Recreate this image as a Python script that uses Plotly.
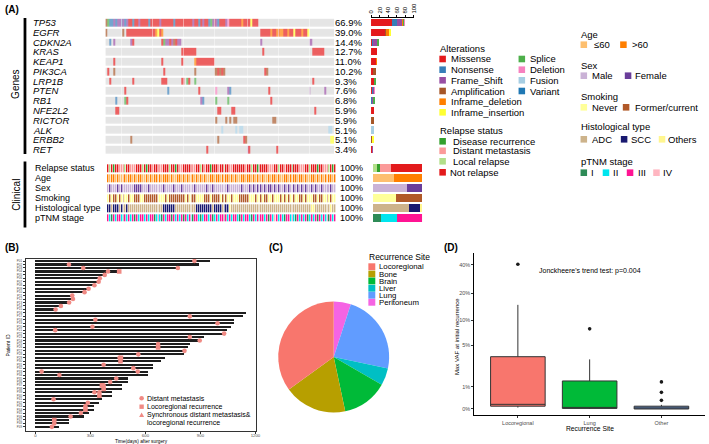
import numpy as np
import plotly.graph_objects as go

W, H = 709, 444
N = 118
FONT = "Liberation Sans, Arial, sans-serif"

# ---------------- Panel A data ----------------
GENES = ["TP53", "EGFR", "CDKN2A", "KRAS", "KEAP1", "PIK3CA", "LRP1B", "PTEN",
         "RB1", "NFE2L2", "RICTOR", "ALK", "ERBB2", "RET"]
GENE_PCT = ["66.9%", "39.0%", "14.4%", "12.7%", "11.0%", "10.2%", "9.3%", "7.6%",
            "6.8%", "5.9%", "5.9%", "5.1%", "5.1%", "3.4%"]

# one character per sample: . none, M missense, N nonsense, F frame shift, A amplification,
# D inframe deletion, I inframe insertion, S splice, L deletion, U fusion, V variant
TP53 = "ASNNFNFFNF NFMMNMMFMM MMNMMMMMFM MMMMMNMMMM MMMMMFMMNM FMMNSFMFNM MMFLMMMMMM DMMMMIMMM. .......... .......... .......... ........"
EGFR = "A........A .MMMMMMMMM MMMMMMDIMD .......... .......... .......... .......... .......... MMMMMDMMDM DDMMDMMIMM MDMMI..... ........"
CDKN2A = "..N.F..... ...FM..... .........M SFFMFAMFF. .......... .......... .......... .......... F......... .......... .....FF... ........"
KRAS = ".......... .......... .......... .........M MMMMMMM... .......... .......... .......... .M........ .......... .......MMM MMM....."
KEAP1 = "....M..... .......... .........M .........M ......DMMM MMMMMM.... .......... .......... .......... .......... .......... ........"
PIK3CA = ".M..A..... .......... .......... M......... ......A... ......AAMA MA........ .......... ..MA...... .......... .......... ........"
LRP1B = "..M....... ....M..... .........M MM.......M M.SM..S... .......... .......... .......... .......... .......... .......M.. ........"
PTEN = ".......... M......... .......... ..N....... ........M. .......L.. ...FN..... .......... ....M..... .......... .....F.... ...F...."
RB1 = ".....N.... SM........ .......... .......... .........F N......S.. ...S...... .......... .....M.... .......... .......... ........"
NFE2L2 = ".....MM... .......... .......... .......... .......... ........MM .....MM... .......... .......... .......... ........M. ........"
RICTOR = ".......... .......... .......... .......... .......... .......A.. ..A.A.AA.. .......... ......AA.. .......... .......... ........"
ALK = ".......... .......... .......... .......... .......... .......... U......U.U U......... .......... .......... .......... .....UU."
ERBB2 = ".......... ...A...... .......... .......... .......... ........A. .......... .MA....... .......... .......... .......... ......II"
RET = ".......... .......... .......... .......... .......... ..M....... .......... ...FM..... ........M. .......... .......... ........"
GENE_ROWS_RAW = [TP53, EGFR, CDKN2A, KRAS, KEAP1, PIK3CA, LRP1B, PTEN, RB1, NFE2L2, RICTOR, ALK, ERBB2, RET]

ALT_CODES = [".", "M", "N", "F", "A", "D", "I", "S", "L", "U", "V"]
ALT_NAMES = ["", "Missense", "Nonsense", "Frame_Shift", "Amplification", "Inframe_deletion",
             "Inframe_insertion", "Splice", "Deletion", "Fusion", "Variant"]
ALT_COLORS = ["#DADADA", "#E41A1C", "#377EB8", "#984EA3", "#A65628", "#FF7F00",
              "#FFFF33", "#4DAF4A", "#F781BF", "#A6CEE3", "#1F78B4"]

CLIN_VARS = ["Relapse status", "Age", "Sex", "Smoking", "Histological type", "pTNM stage"]
RELAPSE = "NLNRNNMMNL NNMMMNNNLN RNNMNNNMMN NNLNNRNMMN NNNNMMNNLN MNNRNNNMNN LNNMMNNNNN NMNNLNNRNN NNNMMMNNLN NMNNNRNNNM MMNNLNNNRN NMMNLNRN"
AGE = "OYOOYOYYOO YOOYOYOOYY OYOYOOYOYO OOYOYYOOYO YOYOOYOYOY OYYOOYOOYO YOOYOYOYYO OYOOYOYOOY OYYOYOOYOY YOOYOYOOYO OYOYYOOYOY OYOYOOYO"
SEX = "MFMMMFMFMM MMMMFFFFMM MFMMMMMMMF MMMMFMMMFM MMMMMFMMMM MFMMFMMMMM MMFMMMMMMF MMMFMFMFMF MFMFFMFMFM MFMFMMFMFM FMFMMFMFMM FMMFMFMM"
SMOKING = "NCNCCNCNCN NCNNCCCNNC CCCCCCNNNN CNCCCCCCCC NCNCCCNNNN CCCNCCCCNC NCNNCNNNCC CCCNNNCNNC NCCNNCNNNC NCNCNNCNNC CNCNNNCCNC CNNCNCNN"
HISTOLOGY = "SSASSSASAA SAAAAAAAAA AAAAAAAAAS SSSSSAAAAA AAAAAASSSS SSSSASSSSA SSSOAAAAAA AAAAAAAAAA AAAAAAAAAA AAAAAAAAAA AAAAAOOAAA AAAAAOAA"
PTNM = "3213233213 2323132332 3233123213 2331323231 3232133212 3323123233 1323233213 2332132323 3231324323 2133232132 3231232313 23231323"
CLIN_ROWS_RAW = [RELAPSE, AGE, SEX, SMOKING, HISTOLOGY, PTNM]

RELAPSE_CODES = ["L", "R", "M", "N"]
RELAPSE_NAMES = ["Local relapse", "Disease recurrence", "Distant metastasis", "Not relapse"]
RELAPSE_COLORS = ["#B2DF8A", "#33A02C", "#FB9A99", "#E31A1C"]
AGE_CODES, AGE_NAMES, AGE_COLORS = ["Y", "O"], ["≤60", ">60"], ["#FDBF6F", "#FF7F00"]
SEX_CODES, SEX_NAMES, SEX_COLORS = ["M", "F"], ["Male", "Female"], ["#CAB2D6", "#6A3D9A"]
SMOKE_CODES, SMOKE_NAMES, SMOKE_COLORS = ["N", "C"], ["Never", "Former/current"], ["#FFFF99", "#B15928"]
HIST_CODES, HIST_NAMES, HIST_COLORS = ["A", "S", "O"], ["ADC", "SCC", "Others"], ["#CDB38B", "#191970", "#FFF68F"]
TNM_CODES, TNM_NAMES, TNM_COLORS = ["1", "2", "3", "4"], ["I", "II", "III", "IV"], ["#2E8B57", "#00E5EE", "#FF1493", "#FFB6C1"]
CLIN_CODES = [RELAPSE_CODES, AGE_CODES, SEX_CODES, SMOKE_CODES, HIST_CODES, TNM_CODES]
CLIN_COLORS = [RELAPSE_COLORS, AGE_COLORS, SEX_COLORS, SMOKE_COLORS, HIST_COLORS, TNM_COLORS]

# ---------------- Panel B data ----------------
B_PATIENTS = ["P01", "P02", "P03", "P04", "P05", "P06", "P07", "P08", "P09", "P10",
              "P11", "P12", "P13", "P14", "P15", "P16", "P17", "P18", "P19", "P20",
              "P21", "P22", "P23", "P24", "P25", "P26", "P27", "P28", "P29", "P30",
              "P31", "P32", "P33", "P34", "P35", "P36", "P37", "P38", "P39", "P40",
              "P41", "P42", "P43", "P44", "P45", "P46", "P47", "P48", "P49"]
B_FOLLOWUP = [953, 890, 777, 462, 381, 354, 345, 327, 295, 270,
              207, 207, 189, 144, 115, 1150, 1130, 1083, 1083, 1065,
              1047, 1029, 917, 896, 844, 831, 817, 810, 705, 684,
              639, 639, 615, 615, 507, 507, 471, 471, 417, 417,
              363, 345, 318, 318, 291, 264, 183, 183, 130]
B_EVT_ROW = [0, 1, 2, 2, 3, 3, 4, 5, 6, 7, 8, 9, 10, 11, 12, 13, 14, 16, 17, 18, 19, 20, 21, 22, 23,
             24, 25, 26, 27, 28, 28, 29, 30, 31, 32, 32, 33, 34, 35, 36, 36, 37, 38, 38, 39, 40, 41,
             42, 43, 44, 45, 46, 47, 48]
B_EVT_DAY = [867, 183, 261, 777, 396, 457, 378, 351, 345, 322, 290, 268, 201, 205, 184, 139, 110,
             842, 327, 993, 311, 108, 1029, 842, 896, 669, 669, 813, 561, 459, 466, 464, 372, 534,
             34, 558, 131, 441, 408, 363, 372, 372, 322, 349, 349, 99, 286, 273, 273, 248, 192,
             103, 103, 90]
B_EVT_TYPE = ["D", "D", "D", "D", "D", "L", "D", "D", "D", "D", "D", "D", "D", "D", "D", "D", "D",
              "D", "D", "D", "D", "D", "D", "D", "D", "D", "L", "D", "D", "D", "L", "L", "D", "D",
              "D", "D", "D", "D", "D", "L", "D", "L", "D", "D", "L", "D", "D", "D", "L", "D", "D",
              "L", "D", "D"]
B_TYPE_NAMES = ["Distant metastasis", "Locoregional recurrence",
                "Synchronous distant metastasis&", "locoregional recurrence"]

# ---------------- Panel C data ----------------
C_SITES = ["Locoregional", "Bone", "Brain", "Liver", "Lung", "Peritoneum"]
C_COUNTS = [21, 11, 8, 3, 14, 3]
C_COLORS = ["#F8766D", "#B79F00", "#00BA38", "#00BFC4", "#619CFF", "#F564E3"]

# ---------------- Panel D data (VAF, %) ----------------
D_SITES = ["Locoregional", "Lung", "Other"]
D_Q1 = [0.10, 0.02, 0.00]
D_MED = [0.17, 0.05, 0.03]
D_Q3 = [3.5, 1.36, 0.10]
D_LO = [0.05, 0.0, 0.0]
D_HI = [15.0, 3.2, 0.15]
D_OUT_SITE = ["Locoregional", "Lung", "Other", "Other", "Other"]
D_OUT_VAL = [40.5, 8.0, 1.3, 0.7, 0.33]
D_COLORS = ["#F8766D", "#00BA38", "#5A7FB8"]
D_TICKS = [0, 1, 5, 10, 20, 40]


def vaf_t(v):
    return np.log10(np.asarray(v, dtype=float) + 1.5)


# ---------------- helpers ----------------
def X(p):
    return p / W


def Y(p):
    return 1 - p / H


def norm_row(s, fill):
    s = s.replace(" ", "")
    return (s + fill * N)[:N]


annotations = []
shapes = []


def text(s, x, y, size, anchor="left", color="#000000", angle=0):
    annotations.append(dict(text=s, x=X(x), y=Y(y), xref="paper", yref="paper",
                            xanchor=anchor, yanchor="middle", showarrow=False,
                            textangle=angle, borderpad=0,
                            font=dict(size=size, color=color, family=FONT)))


def rect(x0, y0, x1, y1, color):
    shapes.append(dict(type="rect", xref="paper", yref="paper", x0=X(x0), x1=X(x1),
                       y0=Y(y1), y1=Y(y0), fillcolor=color, line=dict(width=0), layer="above"))


def swatch(x, yc, color, s=6.6):
    rect(x, yc - s / 2, x + s, yc + s / 2, color)


GENE_ROWS = [norm_row(r, ".") for r in GENE_ROWS_RAW]
CLIN_ROWS = [norm_row(r, c[0]) for r, c in zip(CLIN_ROWS_RAW, CLIN_CODES)]

fig = go.Figure()

# ---------------- Panel A: gene oncoprint ----------------
G_TOP, G_BOT = 17.8, 154.4
C_TOP, C_BOT = 163.3, 222.7
nA = len(ALT_CODES)
cs = []
for i, c in enumerate(ALT_COLORS):
    cs += [[i / nA, c], [(i + 1) / nA, c]]
zg = [[ALT_CODES.index(ch) + 0.5 for ch in row] for row in GENE_ROWS]
fig.add_trace(go.Heatmap(z=zg, x=list(range(N)), y=list(range(len(GENES))), zmin=0, zmax=nA,
                         colorscale=cs, showscale=False, xgap=0.6, ygap=2.2,
                         hoverinfo="skip", xaxis="x", yaxis="y"))

# clinical heatmap
all_cols = []
row_off = []
for cols in CLIN_COLORS:
    row_off.append(len(all_cols))
    all_cols += cols
nC = len(all_cols)
csc = []
for i, c in enumerate(all_cols):
    csc += [[i / nC, c], [(i + 1) / nC, c]]
zc = [[row_off[r] + CLIN_CODES[r].index(ch) + 0.5 for ch in CLIN_ROWS[r]] for r in range(len(CLIN_ROWS))]
fig.add_trace(go.Heatmap(z=zc, x=list(range(N)), y=list(range(len(CLIN_VARS))), zmin=0, zmax=nC,
                         colorscale=csc, showscale=False, xgap=0.6, ygap=2.0,
                         hoverinfo="skip", xaxis="x2", yaxis="y2"))

# gene bar (counts)
for code, col in zip(ALT_CODES[1:], ALT_COLORS[1:]):
    counts = [row.count(code) for row in GENE_ROWS]
    fig.add_trace(go.Bar(x=counts, y=list(range(len(GENES))), orientation="h", width=0.72,
                         marker=dict(color=col, line=dict(width=0)), hoverinfo="skip",
                         xaxis="x3", yaxis="y3"))

# clinical bars (100%)
for r in range(len(CLIN_VARS)):
    for code, col in zip(CLIN_CODES[r], CLIN_COLORS[r]):
        pct = CLIN_ROWS[r].count(code) / N * 100
        fig.add_trace(go.Bar(x=[pct], y=[r], orientation="h", width=0.78,
                             marker=dict(color=col, line=dict(width=0)), hoverinfo="skip",
                             xaxis="x4", yaxis="y4"))

# ---------------- Panel B ----------------
fig.add_trace(go.Bar(x=B_FOLLOWUP, y=list(range(len(B_PATIENTS))), orientation="h", width=0.62,
                     marker=dict(color="#1E1E1E", line=dict(width=0)), hoverinfo="skip",
                     xaxis="x5", yaxis="y5"))
sym = {"D": "circle", "L": "square", "S": "triangle-up"}
for t in ["D", "L", "S"]:
    xs = [d for d, tt in zip(B_EVT_DAY, B_EVT_TYPE) if tt == t]
    ys = [r for r, tt in zip(B_EVT_ROW, B_EVT_TYPE) if tt == t]
    if xs:
        fig.add_trace(go.Scatter(x=xs, y=ys, mode="markers", hoverinfo="skip",
                                 marker=dict(symbol=sym[t], size=4.6, color="#F08A84", line=dict(width=0)),
                                 xaxis="x5", yaxis="y5"))

# ---------------- Panel C (drawn clockwise from 12 o'clock) ----------------
fig.add_trace(go.Pie(labels=C_SITES[::-1], values=C_COUNTS[::-1], sort=False, direction="clockwise",
                     rotation=0, textinfo="none", hoverinfo="skip",
                     marker=dict(colors=C_COLORS[::-1], line=dict(width=0)),
                     domain=dict(x=[X(278), X(390)], y=[Y(413), Y(301)])))

# ---------------- Panel D ----------------
for i, s in enumerate(D_SITES):
    fig.add_trace(go.Box(x=[s], q1=vaf_t([D_Q1[i]]), median=vaf_t([D_MED[i]]), q3=vaf_t([D_Q3[i]]),
                         lowerfence=vaf_t([D_LO[i]]), upperfence=vaf_t([D_HI[i]]),
                         fillcolor=D_COLORS[i], line=dict(color="#333333", width=1),
                         whiskerwidth=0, boxpoints=False, width=0.76, hoverinfo="skip",
                         xaxis="x6", yaxis="y6"))
fig.add_trace(go.Scatter(x=D_OUT_SITE, y=vaf_t(D_OUT_VAL), mode="markers", hoverinfo="skip",
                         marker=dict(size=3.6, color="#1A1A1A"), xaxis="x6", yaxis="y6"))

# ---------------- text & legends ----------------
text("<b>(A)</b>", 1, 10, 10)
text("<b>(B)</b>", 1, 248, 10)
text("<b>(C)</b>", 268, 248, 10)
text("<b>(D)</b>", 444, 248, 10)

text("Genes", 12, 84, 10, anchor="center", angle=-90)
text("Clinical", 13, 195, 10, anchor="center", angle=-90)
rect(20.8, 18, 23.6, 154, "#000000")
rect(20.8, 161.5, 23.6, 227.5, "#000000")

gp = (G_BOT - G_TOP) / len(GENES)
for i, (g, p) in enumerate(zip(GENES, GENE_PCT)):
    yc = G_TOP + (i + 0.5) * gp
    text("<i>%s</i>" % g, 29.5, yc, 9.5)
    text(p, 334.5, yc, 9.5)
cp = (C_BOT - C_TOP) / len(CLIN_VARS)
for i, v in enumerate(CLIN_VARS):
    yc = C_TOP + (i + 0.5) * cp
    text(v, 31.5, yc, 9)
    text("100%", 339.5, yc, 9)

# alterations legend
text("Alterations", 440, 48.7, 9.5)
col1 = [1, 2, 3, 4, 5, 6]
col2 = [7, 8, 9, 10]
leg_y = [59, 69.7, 80.3, 91, 101.7, 112.3]
for k, idx in enumerate(col1):
    swatch(440.7, leg_y[k], ALT_COLORS[idx])
    text(ALT_NAMES[idx], 451.5, leg_y[k], 9.5)
for k, idx in enumerate(col2):
    swatch(520.7, leg_y[k], ALT_COLORS[idx])
    text(ALT_NAMES[idx], 531, leg_y[k], 9.5)

text("Relapse status", 440, 130.7, 9.5)
rel_order = [1, 2, 0, 3]
rel_y = [141.3, 150.8, 161.3, 172.3]
for k, idx in enumerate(rel_order):
    swatch(440.7, rel_y[k], RELAPSE_COLORS[idx])
    text(RELAPSE_NAMES[idx], 453 if k < 3 else 450.7, rel_y[k], 9.5)

text("Age", 582.7, 34.3, 9.5)
swatch(583.3, 44.7, AGE_COLORS[0]); text(AGE_NAMES[0], 595.5, 44.7, 9.5)
swatch(623.3, 44.7, AGE_COLORS[1]); text(AGE_NAMES[1], 633.8, 44.7, 9.5)
text("Sex", 582.7, 65.3, 9.5)
swatch(583.3, 75.7, SEX_COLORS[0]); text(SEX_NAMES[0], 594.3, 75.7, 9.5)
swatch(628, 75.7, SEX_COLORS[1]); text(SEX_NAMES[1], 637.7, 75.7, 9.5)
text("Smoking", 582.7, 96.7, 9.5)
swatch(583.3, 107.3, SMOKE_COLORS[0]); text(SMOKE_NAMES[0], 594.3, 107.3, 9.5)
swatch(626, 107.3, SMOKE_COLORS[1]); text(SMOKE_NAMES[1], 637, 107.3, 9.5)
text("Histological type", 582.7, 126.7, 9.5)
swatch(583.3, 139.3, HIST_COLORS[0]); text(HIST_NAMES[0], 594.3, 139.3, 9.5)
swatch(624, 139.3, HIST_COLORS[1]); text(HIST_NAMES[1], 633.7, 139.3, 9.5)
swatch(662.3, 139.3, HIST_COLORS[2]); text(HIST_NAMES[2], 670.7, 139.3, 9.5)
text("pTNM stage", 582.7, 161.7, 9.5)
for xs_, xt_, k in [(583.3, 593.3, 0), (605.7, 615, 1), (630, 640, 2), (656.7, 665.7, 3)]:
    swatch(xs_, 172.7, TNM_COLORS[k])
    text(TNM_NAMES[k], xt_, 172.7, 9.5)

# panel B labels & legend
text("Patient ID", 5.5, 345, 5, anchor="center", angle=-90)
text("Time(days) after surgery", 139.5, 441, 4.8, anchor="center")
shapes.append(dict(type="circle", xref="paper", yref="paper", x0=X(137.7), x1=X(142.3),
                   y0=Y(400.6), y1=Y(396), fillcolor="#F08A84", line=dict(width=0)))
rect(137.8, 404.5, 142.2, 408.9, "#F08A84")
shapes.append(dict(type="path", xref="paper", yref="paper",
                   path="M %f %f L %f %f L %f %f Z" % (X(140), Y(412.6), X(137.5), Y(417), X(142.5), Y(417)),
                   fillcolor="#F08A84", line=dict(width=0)))
for t_, yy in zip(B_TYPE_NAMES, [398.3, 406.7, 415, 423.2]):
    text(t_, 144.5, yy, 7)

# panel C legend
text("Recurrence Site", 368.5, 257, 8.5)
c_y = [266.7, 274, 281, 288.3, 295.3, 302.3]
for k, s in enumerate(C_SITES):
    rect(369, c_y[k] - 3.4, 376, c_y[k] + 3.4, C_COLORS[k])
    text(s, 378.5, c_y[k], 7.8)

# panel D labels
text("Jonckheere's trend test: p=0.004", 592.7, 271, 7, anchor="center")
text("Max VAF at initial recurrence", 458.5, 336, 6, anchor="center", angle=-90)
text("Recurrence Site", 593, 428.5, 6.7, anchor="center")

# ---------------- layout ----------------
hid = dict(visible=False, showgrid=False, zeroline=False, fixedrange=True)
layout = dict(
    width=W, height=H, margin=dict(l=0, r=0, t=0, b=0),
    paper_bgcolor="white", plot_bgcolor="white", showlegend=False, hovermode=False,
    barmode="stack", font=dict(family=FONT, color="#000000"),
    xaxis=dict(hid, domain=[X(103.5), X(334.5)], range=[-0.5, N - 0.5], anchor="y"),
    yaxis=dict(hid, domain=[Y(G_BOT), Y(G_TOP)], range=[len(GENES) - 0.5, -0.5], anchor="x"),
    xaxis2=dict(hid, domain=[X(105), X(336.5)], range=[-0.5, N - 0.5], anchor="y2"),
    yaxis2=dict(hid, domain=[Y(C_BOT), Y(C_TOP)], range=[len(CLIN_VARS) - 0.5, -0.5], anchor="x2"),
    xaxis3=dict(domain=[X(371.7), X(415)], range=[0, 100], side="top", anchor="y3",
                showline=True, linecolor="#000000", linewidth=1, ticks="outside", ticklen=2,
                tickwidth=0.8, tickcolor="#000000", tickvals=[0, 20, 40, 60, 80, 100],
                tickangle=-90, tickfont=dict(size=6, family=FONT), showgrid=False,
                zeroline=False, fixedrange=True),
    yaxis3=dict(hid, domain=[Y(G_BOT), Y(G_TOP)], range=[len(GENES) - 0.5, -0.5], anchor="x3"),
    xaxis4=dict(hid, domain=[X(373.3), X(423.3)], range=[0, 100], anchor="y4"),
    yaxis4=dict(hid, domain=[Y(C_BOT), Y(C_TOP)], range=[len(CLIN_VARS) - 0.5, -0.5], anchor="x4"),
    xaxis5=dict(domain=[X(23), X(256)], range=[-52.4, 1205.4], anchor="y5", showline=True,
                mirror=True, linecolor="#333333", linewidth=1, ticks="outside", ticklen=1.5,
                tickcolor="#333333", tickvals=[0, 300, 600, 900, 1200],
                tickfont=dict(size=4.3, color="#4D4D4D", family=FONT), showgrid=False,
                zeroline=False, fixedrange=True),
    yaxis5=dict(domain=[Y(431), Y(259)], range=[49.2, -0.6], anchor="x5", showline=True,
                mirror=True, linecolor="#333333", linewidth=1, ticks="outside", ticklen=2,
                tickcolor="#333333", tickvals=list(range(len(B_PATIENTS))), ticktext=B_PATIENTS,
                tickfont=dict(size=3, color="#4D4D4D", family=FONT), showgrid=False,
                zeroline=False, fixedrange=True),
    xaxis6=dict(domain=[X(476), X(709)], type="category", categoryorder="array",
                categoryarray=D_SITES, range=[-0.607, 2.607], anchor="y6", showline=True,
                linecolor="#000000", linewidth=1, ticks="outside", ticklen=2, tickcolor="#333333",
                tickfont=dict(size=5.5, color="#4D4D4D", family=FONT), showgrid=False,
                zeroline=False, fixedrange=True),
    yaxis6=dict(domain=[Y(415), Y(253)], range=[0.116, 1.736], anchor="x6", showline=True,
                linecolor="#000000", linewidth=1, ticks="outside", ticklen=2, tickcolor="#333333",
                tickvals=list(vaf_t(D_TICKS)), ticktext=["%d%%" % t for t in D_TICKS],
                tickfont=dict(size=5.5, color="#4D4D4D", family=FONT), showgrid=False,
                zeroline=False, fixedrange=True),
    annotations=annotations, shapes=shapes,
)
fig.update_layout(**layout)
try:
    fig.update_layout(xaxis5_ticklabelstandoff=-2)
except Exception:
    pass
fig.write_html("out.html", config={"displayModeBar": False},
               post_script="document.body.style.margin='0';document.body.style.overflow='hidden';")
